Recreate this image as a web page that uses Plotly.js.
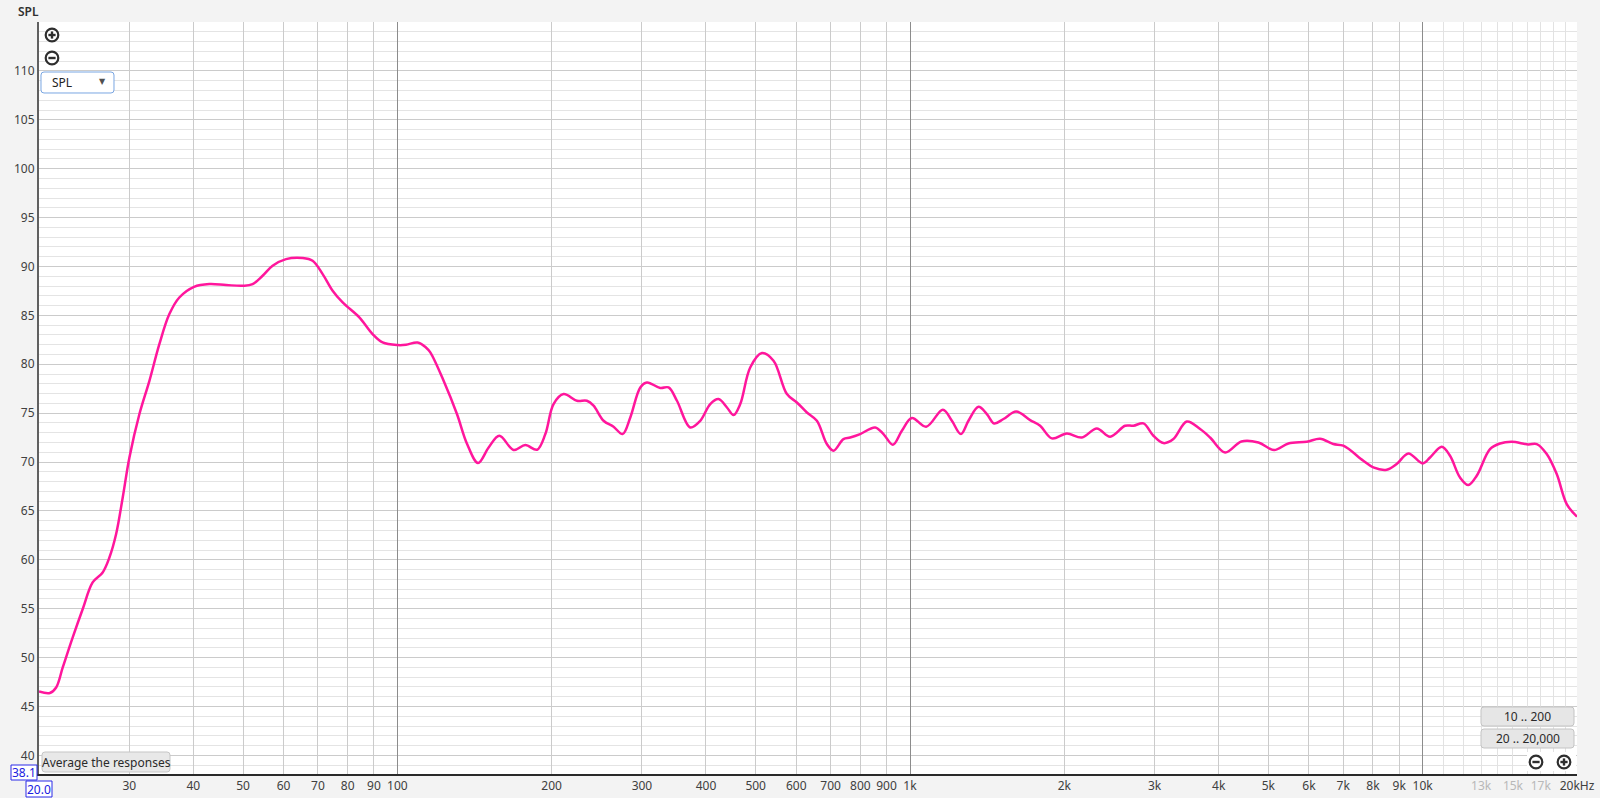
<!DOCTYPE html>
<html>
<head>
<meta charset="utf-8">
<script src="https://cdn.plot.ly/plotly-3.0.1.min.js"></script>
<style>
  html, body { margin: 0; padding: 0; background: #f3f3f3; }
  #chart { width: 1600px; height: 798px; }
</style>
</head>
<body>
<div id="chart"></div>
<script>
// ---- data ----
const freqHz = [20, 21, 21.6, 22.25, 23.27, 24.34, 25.45, 26.62, 27.44, 28.28, 29.13, 30.02, 31.4, 32.84, 34.34, 35.92, 37.56, 40.13, 42.99, 46.35, 50.07, 52.2, 54.6, 57.11, 60.65, 65.35, 68.35, 71.5, 74.78, 78.22, 84.3, 89.46, 93.6, 100.1, 103.97, 109.5, 113.7, 115.96, 123.1, 130.7, 136.8, 143.7, 150.7, 158.1, 168.6, 177.7, 187.3, 194.4, 201.7, 211.0, 224.0, 234.3, 241.4, 252.5, 264.1, 275.0, 284.7, 297.8, 306.8, 325.7, 338.1, 351.1, 372.7, 389.8, 407.7, 423.2, 439.5, 452.7, 466.5, 487.9, 514.2, 541.7, 575.3, 601.7, 629.3, 658.2, 688.4, 709.1, 741.7, 764.3, 799.4, 855.2, 887.7, 926.0, 964.1, 1008.4, 1075.3, 1159.1, 1206.9, 1256.7, 1300.3, 1360.0, 1412.3, 1459.3, 1521.6, 1610.9, 1715.4, 1794.1, 1890.9, 2022.6, 2163.5, 2314.2, 2456.6, 2627.7, 2727.5, 2852.8, 2983.8, 3120.9, 3264.2, 3466.7, 3680.1, 3849.2, 4117.9, 4430, 4781.9, 5131.2, 5471.6, 5941.7, 6306.3, 6694.1, 7002.1, 7660.4, 8012.3, 8508.0, 8898.5, 9378.4, 10003, 10336, 10894, 11307, 11827, 12276, 12747, 13531, 14153, 14916, 16074, 16692, 17458, 18259, 19098, 20000];
const splDb = [46.54, 46.38, 46.95, 49.0, 52.07, 54.97, 57.69, 58.71, 60.24, 62.64, 66.38, 70.47, 74.91, 78.31, 82.06, 85.13, 86.83, 87.92, 88.2, 88.1, 88.03, 88.2, 89.05, 90.07, 90.75, 90.86, 90.58, 89.22, 87.52, 86.32, 84.79, 83.09, 82.23, 81.96, 81.99, 82.23, 81.72, 81.21, 78.31, 74.91, 71.84, 69.9, 71.49, 72.69, 71.23, 71.74, 71.26, 72.86, 75.93, 76.95, 76.27, 76.27, 75.76, 74.22, 73.61, 72.86, 74.56, 77.63, 78.14, 77.57, 77.63, 76.27, 73.54, 74.22, 75.93, 76.44, 75.58, 74.81, 75.93, 79.67, 81.14, 80.36, 76.95, 76.09, 75.07, 74.22, 71.84, 71.16, 72.35, 72.51, 72.86, 73.54, 72.86, 71.77, 73.2, 74.5, 73.61, 75.35, 74.22, 72.86, 74.22, 75.65, 74.91, 73.95, 74.4, 75.17, 74.29, 73.71, 72.42, 72.92, 72.51, 73.44, 72.59, 73.71, 73.71, 73.95, 72.69, 71.94, 72.35, 74.15, 73.37, 72.51, 70.98, 72.1, 72.0, 71.23, 71.9, 72.07, 72.38, 71.84, 71.67, 70.13, 69.45, 69.21, 69.8, 70.88, 69.86, 70.47, 71.56, 70.64, 68.42, 67.65, 68.6, 71.33, 71.9, 72.07, 71.8, 71.84, 70.82, 68.77, 65.7, 64.41];

const yTickVals = [40, 45, 50, 55, 60, 65, 70, 75, 80, 85, 90, 95, 100, 105, 110];
const xLabelVals = [30, 40, 50, 60, 70, 80, 90, 100, 200, 300, 400, 500, 600, 700, 800, 900, 1000, 2000, 3000, 4000, 5000, 6000, 7000, 8000, 9000, 10000, 13000, 15000, 17000, 20000];
const xLabelText = ['30', '40', '50', '60', '70', '80', '90', '100', '200', '300', '400', '500', '600', '700', '800', '900', '1k', '2k', '3k', '4k', '5k', '6k', '7k', '8k', '9k', '10k', '13k', '15k', '17k', '20kHz'];
const xFadedLabels = ['13k', '15k', '17k'];
const xMediumGrid = [30, 40, 50, 60, 70, 80, 90, 200, 300, 400, 500, 600, 700, 800, 900, 2000, 3000, 4000, 5000, 6000, 7000, 8000, 9000];
const xDecadeGrid = [100, 1000, 10000];
const xLightGrid = [11000, 12000, 13000, 14000, 15000, 16000, 17000, 18000, 19000];
const xRangeHz = [20, 20000];
const yRangeDb = [38.1, 115];
const yTitle = 'SPL';
const xStartLabel = '20.0';
const yStartLabel = '38.1';

// ---- layout geometry (pixels) ----
const L = 39, R = 1577, T = 22, B = 774;
const W = R - L, H = B - T;
const ax = px => (px - L) / W;
const ay = py => (B - py) / H;
const FONT = 'Noto Sans, Open Sans, sans-serif';

function pt(px, py) { return ax(px).toFixed(5) + ',' + ay(py).toFixed(5); }
function rrect(x0, y0, x1, y1, r, fill, stroke) {
  const p = 'M' + pt(x0 + r, y0) + ' L' + pt(x1 - r, y0) + ' Q' + pt(x1, y0) + ' ' + pt(x1, y0 + r) +
    ' L' + pt(x1, y1 - r) + ' Q' + pt(x1, y1) + ' ' + pt(x1 - r, y1) +
    ' L' + pt(x0 + r, y1) + ' Q' + pt(x0, y1) + ' ' + pt(x0, y1 - r) +
    ' L' + pt(x0, y0 + r) + ' Q' + pt(x0, y0) + ' ' + pt(x0 + r, y0) + ' Z';
  return { type: 'path', xref: 'paper', yref: 'paper', path: p, fillcolor: fill,
           line: { color: stroke, width: 1 }, layer: 'above' };
}
function rect(x0, y0, x1, y1, fill, stroke, w) {
  return { type: 'rect', xref: 'paper', yref: 'paper', x0: ax(x0), x1: ax(x1), y0: ay(y1), y1: ay(y0),
           fillcolor: fill, line: { color: stroke, width: w }, layer: 'above' };
}
function seg(x0, y0, x1, y1, color, w) {
  return { type: 'line', xref: 'paper', yref: 'paper', x0: ax(x0), x1: ax(x1), y0: ay(y0), y1: ay(y1),
           line: { color: color, width: w }, layer: 'above' };
}
function zoomIcon(cx, cy, plus) {
  const r = 6.3, a = 3.6, c = '#2e2e2e';
  const out = [
    { type: 'circle', xref: 'paper', yref: 'paper', x0: ax(cx - r), x1: ax(cx + r), y0: ay(cy + r), y1: ay(cy - r),
      fillcolor: '#ffffff', line: { color: c, width: 2.2 }, layer: 'above' },
    seg(cx - a, cy, cx + a, cy, c, 2.4)
  ];
  if (plus) out.push(seg(cx, cy - a, cx, cy + a, c, 2.4));
  return out;
}
function label(text, px, py, size, color, opts) {
  return Object.assign({ text: text, xref: 'paper', yref: 'paper', x: ax(px), y: ay(py),
    xanchor: 'center', yanchor: 'middle', showarrow: false,
    font: { family: FONT, size: size, color: color } }, opts || {});
}

const logRange = xRangeHz.map(v => Math.log10(v));
const tickText = xLabelText.map(t => xFadedLabels.includes(t) ? '<span style="color:#b8b8b8">' + t + '</span>' : t);

function overlayAxis(vals, color) {
  return { type: 'log', range: logRange, overlaying: 'x', anchor: 'y', tickmode: 'array', tickvals: vals,
           showticklabels: false, ticks: '', showgrid: true, gridcolor: color, gridwidth: 1,
           showline: false, zeroline: false, fixedrange: true };
}

const traces = [
  { x: [], y: [], xaxis: 'x4', yaxis: 'y', type: 'scatter', mode: 'lines', hoverinfo: 'skip', showlegend: false },
  { x: [], y: [], xaxis: 'x2', yaxis: 'y', type: 'scatter', mode: 'lines', hoverinfo: 'skip', showlegend: false },
  { x: [], y: [], xaxis: 'x3', yaxis: 'y', type: 'scatter', mode: 'lines', hoverinfo: 'skip', showlegend: false },
  { x: freqHz, y: splDb, xaxis: 'x', yaxis: 'y', type: 'scatter', mode: 'lines',
    line: { color: '#ff169c', width: 2.5, shape: 'spline', smoothing: 1 }, showlegend: false }
];

const layout = {
  width: 1600, height: 798,
  paper_bgcolor: '#f3f3f3', plot_bgcolor: '#ffffff',
  margin: { l: L, r: 1600 - R, t: T, b: 798 - B, pad: 0 },
  showlegend: false,
  font: { family: FONT, size: 12, color: '#404040' },
  xaxis: {
    type: 'log', range: logRange, tickmode: 'array', tickvals: xLabelVals, ticktext: tickText,
    showgrid: false, ticks: '', showline: true, linecolor: '#2a2a2a', linewidth: 2, zeroline: false,
    tickfont: { family: FONT, size: 12, color: '#404040' }, fixedrange: true
  },
  xaxis2: overlayAxis(xMediumGrid, '#cbcbcb'),
  xaxis3: overlayAxis(xDecadeGrid, '#8c8c8c'),
  xaxis4: overlayAxis(xLightGrid, '#e2e2e2'),
  yaxis: {
    range: yRangeDb, tickmode: 'array', tickvals: yTickVals, ticks: '',
    showgrid: true, gridcolor: '#cbcbcb', gridwidth: 1,
    minor: { dtick: 1, tick0: 0, showgrid: true, gridcolor: '#e4e4e4', gridwidth: 1 },
    showline: true, linecolor: '#606060', linewidth: 2, zeroline: false,
    tickfont: { family: FONT, size: 12, color: '#404040' }, fixedrange: true
  },
  shapes: [
    // white patch behind zoom icons (bottom right)
    rect(1527, 752, 1576, 771, '#ffffff', 'rgba(0,0,0,0)', 0),
    // dropdown
    rrect(41, 72, 114, 93, 3, '#ffffff', '#79a6e2'),
    // Average the responses button
    rrect(42, 752, 170, 772, 3, '#e8e8e8', '#c6c6c6'),
    // range buttons
    rrect(1481, 707, 1574, 726, 3, '#e6e6e6', '#c4c4c4'),
    rrect(1481, 729, 1574, 748, 3, '#e6e6e6', '#c4c4c4'),
    // blue value boxes
    rect(11, 765, 37, 780, '#ffffff', '#2a2ae8', 1),
    rect(26, 781, 52, 797, '#ffffff', '#2a2ae8', 1)
  ].concat(zoomIcon(52, 35, true), zoomIcon(52, 58, false), zoomIcon(1536, 762, false), zoomIcon(1564, 762, true)),
  annotations: [
    label(yTitle, 28, 12, 12, '#303030', { font: { family: FONT, size: 12, color: '#303030', weight: 600 } }),
    label('SPL', 50, 82.5, 12, '#222222', { xanchor: 'left' }),
    label('▼', 102, 82, 8, '#505050', { font: { family: 'DejaVu Sans', size: 8, color: '#505050' } }),
    label('Average the responses', 106, 762, 12, '#2a2a2a'),
    label('10 .. 200', 1527.5, 716.5, 12, '#2a2a2a'),
    label('20 .. 20,000', 1527.5, 738.5, 12, '#2a2a2a'),
    label(yStartLabel, 24, 772.5, 12, '#2020e0'),
    label(xStartLabel, 39, 789, 12, '#2020e0')
  ]
};

Plotly.newPlot('chart', traces, layout, { staticPlot: true, displayModeBar: false });
</script>
</body>
</html>
